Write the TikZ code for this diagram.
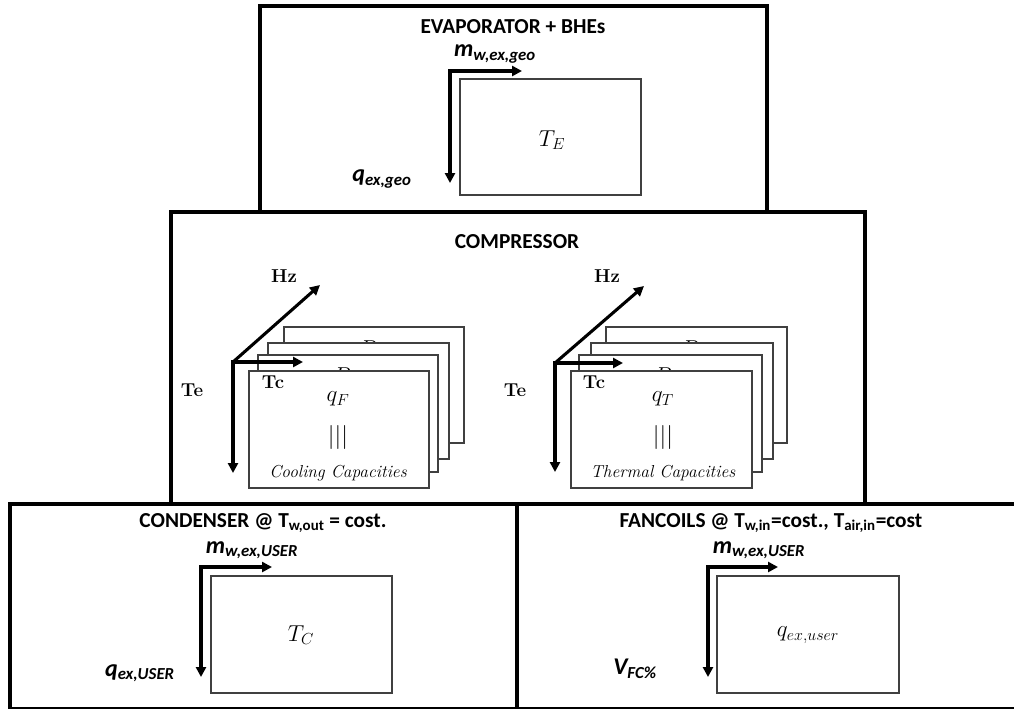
\documentclass[tikz,border=0pt]{standalone}
\usepackage{fontspec}
\setsansfont{Carlito}
\usetikzlibrary{arrows.meta}

\begin{document}
\begin{tikzpicture}[x=75pt,y=-75pt,
  block/.style={draw,line width=2.3pt},
  sheet/.style={draw=black!75,line width=0.9pt,fill=white},
  axis/.style={line width=2.3pt,-{Triangle[length=7.5pt,width=7.5pt]}},
  axes/.style={line width=2.3pt,{Triangle[length=7.5pt,width=7.5pt]}-{Triangle[length=7.5pt,width=7.5pt]}},
  head/.style={inner sep=0.5pt,font=\sffamily\bfseries\fontsize{16}{18}\selectfont},
  flow/.style={inner sep=0.5pt,font=\sffamily\bfseries\itshape\fontsize{18}{20}\selectfont},
  dim/.style={inner sep=1pt,font=\bfseries\fontsize{14}{16}\selectfont},
  sym/.style={inner sep=0.5pt,font=\fontsize{18}{20}\selectfont},
  capline/.style={inner sep=1pt,font=\itshape\fontsize{13}{15}\selectfont},
  hid/.style={anchor=base,inner sep=0pt,font=\fontsize{18}{20}\selectfont}]
\useasboundingbox (0,0) rectangle (10.14,7.08);
% outer blocks
\draw[block] (2.60,0.06) rectangle (7.67,2.12);
\draw[block] (1.71,2.12) rectangle (8.65,5.04);
\draw[block] (0.10,5.04) rectangle (5.17,7.09);
\draw[block] (5.17,5.04) rectangle (10.40,7.09);

% evaporator
\node[head] (evap) at (5.13,0.27) {EVAPORATOR + BHEs};
\draw[sheet] (4.60,0.79) rectangle (6.41,1.95);
\node[sym] (TE) at (5.52,1.40) {$T_E$};
\coordinate (geox) at (5.22,0.71);
\coordinate (geoy) at (4.50,1.83);
\draw[axes] (geoy) |- (geox);
\node[flow] (mgeo) at (4.95,0.54) {m\textsubscript{w,ex,geo}};
\node[flow] (qgeo) at (3.82,1.79) {q\textsubscript{ex,geo}};

% compressor
\node[head] (comp) at (5.17,2.42) {COMPRESSOR};
% cooling capacities
\draw[sheet] (2.84,3.27) rectangle (4.64,4.43);
\node[hid] (PF4) at (3.68,3.56) {$P$};
\draw[sheet] (2.68,3.43) rectangle (4.49,4.59);
\node[hid] (PF3) at (3.52,3.72) {$P$};
\draw[sheet] (2.58,3.55) rectangle (4.38,4.72);
\node[hid] (PF2) at (3.42,3.83) {$P$};
\draw[sheet] (2.49,3.71) rectangle (4.29,4.88);
\node[sym] (qF) at (3.38,3.99) {$q_F$};
\node[sym] (eqF) at (3.38,4.37) {|||};
\node[capline] (capF) at (3.38,4.73) {Cooling Capacities};
\coordinate (oF) at (2.33,3.62);
\coordinate (hzF) at (3.20,2.85);
\coordinate (tcF) at (3.03,3.62);
\coordinate (teF) at (2.33,4.73);
\draw[axes] (teF) |- (tcF);
\draw[axis] (oF) -- (hzF);
\node[dim] (lhzF) at (2.84,2.76) {Hz};
\node[dim] (lteF) at (1.92,3.90) {Te};
\node[dim] (ltcF) at (2.73,3.82) {Tc};
% thermal capacities
\draw[sheet] (6.06,3.27) rectangle (7.87,4.43);
\node[hid] (PT4) at (6.90,3.56) {$P$};
\draw[sheet] (5.91,3.43) rectangle (7.73,4.59);
\node[hid] (PT3) at (6.75,3.72) {$P$};
\draw[sheet] (5.79,3.55) rectangle (7.62,4.72);
\node[hid] (PT2) at (6.63,3.83) {$P$};
\draw[sheet] (5.71,3.71) rectangle (7.52,4.88);
\node[sym] (qT) at (6.63,3.99) {$q_T$};
\node[sym] (eqT) at (6.63,4.37) {|||};
\node[capline] (capT) at (6.63,4.73) {Thermal Capacities};
\coordinate (oT) at (5.55,3.63);
\coordinate (hzT) at (6.44,2.86);
\coordinate (tcT) at (6.23,3.63);
\coordinate (teT) at (5.55,4.72);
\draw[axes] (teT) |- (tcT);
\draw[axis] (oT) -- (hzT);
\node[dim] (lhzT) at (6.07,2.76) {Hz};
\node[dim] (lteT) at (5.15,3.90) {Te};
\node[dim] (ltcT) at (5.94,3.82) {Tc};

% condenser
\node[head] (cond) at (2.63,5.23) {CONDENSER @ T\textsubscript{w,out} = cost.};
\draw[sheet] (2.11,5.76) rectangle (3.92,6.93);
\node[sym] (TC) at (3.01,6.35) {$T_C$};
\coordinate (condx) at (2.72,5.67);
\coordinate (condy) at (2.01,6.77);
\draw[axes] (condy) |- (condx);
\node[flow] (mcond) at (2.52,5.50) {m\textsubscript{w,ex,USER}};
\node[flow] (qcond) at (1.40,6.73) {q\textsubscript{ex,USER}};

% fancoils
\node[head] (fan) at (7.71,5.23) {FANCOILS @ T\textsubscript{w,in}=cost., T\textsubscript{air,in}=cost};
\draw[sheet] (7.17,5.76) rectangle (8.99,6.93);
\node[sym] (qfan) at (8.08,6.35) {$q_{ex,user}$};
\coordinate (fanx) at (7.78,5.67);
\coordinate (fany) at (7.08,6.77);
\draw[axes] (fany) |- (fanx);
\node[flow] (mfan) at (7.59,5.50) {m\textsubscript{w,ex,USER}};
\node[flow] (vfan) at (6.35,6.69) {V\textsubscript{FC\%}};
\end{tikzpicture}
\end{document}
